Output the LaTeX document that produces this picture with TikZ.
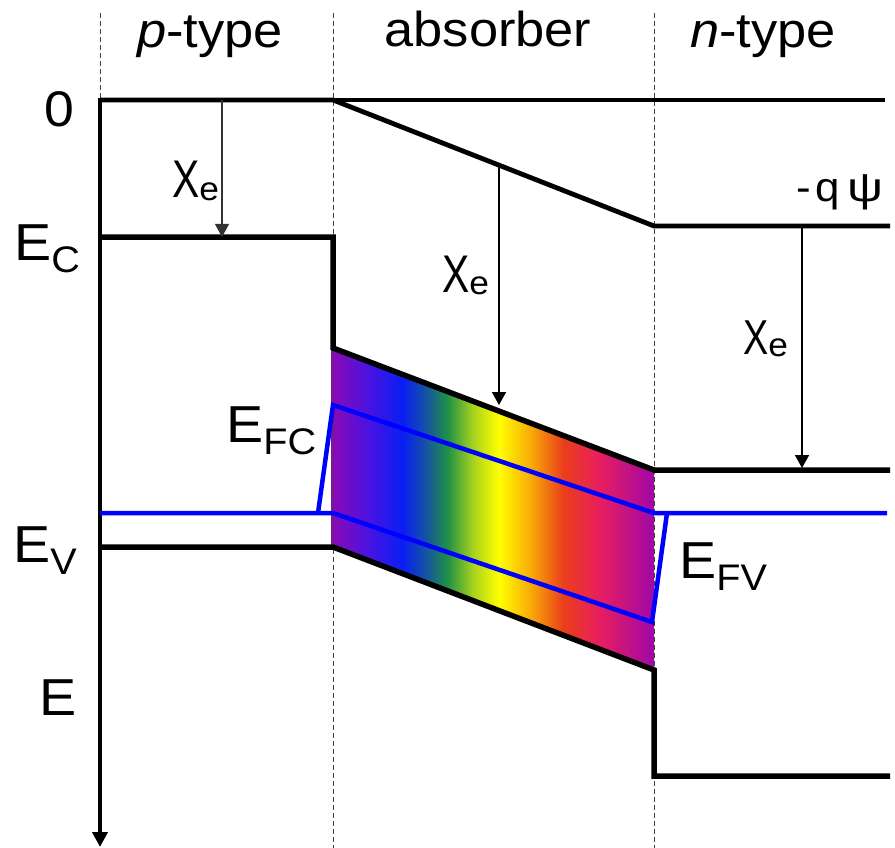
\documentclass[tikz,border=0pt]{standalone}
\usepackage{graphicx}
\usepackage{fontspec}
\setmainfont{Liberation Sans}[FakeStretch=1.07]
\usetikzlibrary{arrows.meta}
\definecolor{rb0}{HTML}{8C0AB4}
\definecolor{rb1}{HTML}{4A12E0}
\definecolor{rb2}{HTML}{0A1EF5}
\definecolor{rb3}{HTML}{1450A8}
\definecolor{rb4}{HTML}{1E9046}
\definecolor{rb5}{HTML}{A8D21E}
\definecolor{rb6}{HTML}{FFFF00}
\definecolor{rb7}{HTML}{F8A808}
\definecolor{rb8}{HTML}{EA3E1A}
\definecolor{rb9}{HTML}{E81E5E}
\definecolor{rb10}{HTML}{A008A8}
\pgfdeclarehorizontalshading{rainbowband}{100bp}{color(0bp)=(rb0); color(25bp)=(rb0); color(30.75bp)=(rb1); color(36bp)=(rb2); color(39.5bp)=(rb3); color(43bp)=(rb4); color(47bp)=(rb5); color(51bp)=(rb6); color(56bp)=(rb7); color(61bp)=(rb8); color(66.5bp)=(rb9); color(75bp)=(rb10); color(100bp)=(rb10)}
\newcommand{\bandsub}[2]{#1\lower12.5pt\hbox{\fontsize{37}{40}\selectfont #2}}
\newcommand{\chie}{\scalebox{0.72}[1]{Χ}\lower2pt\hbox{\fontsize{33}{36}\selectfont e}}
\tikzset{
  region/.style={draw=black!75, line width=1pt, dash pattern=on 5pt off 3pt},
  vacline/.style={line width=4.8pt, line join=miter},
  bandline/.style={line width=5.5pt, line join=miter},
  fermiline/.style={draw={rgb,255:red,0;green,0;blue,255}, line width=4.5pt, line join=miter},
  affarrow/.style={line width=1.7pt, -{Triangle[length=13pt,width=14pt]}},
  header/.style={inner sep=0pt, anchor=base, font=\fontsize{49}{55}\selectfont},
  biglabel/.style={inner sep=0pt, anchor=base west, font=\fontsize{52}{58}\selectfont},
  chilabel/.style={inner sep=0pt, anchor=base west, font=\fontsize{53}{58}\selectfont},
}
\begin{document}
\begin{tikzpicture}[x=1pt,y=-1pt]
\useasboundingbox (0,0) rectangle (895,848);
% band coordinates
\coordinate (vacL) at (100,100);
\coordinate (vacJ) at (333,100);
\coordinate (vacN) at (654,226);
\coordinate (vacR) at (890,226);
\coordinate (topR) at (885,100);
\coordinate (ecL) at (100,237);
\coordinate (ecJ) at (333,237);
\coordinate (ecA) at (333,348);
\coordinate (ecN) at (654,470);
\coordinate (ecR) at (890,470);
\coordinate (evL) at (100,547);
\coordinate (evA) at (333,547);
\coordinate (evN) at (654,670);
\coordinate (evD) at (654,776);
\coordinate (evR) at (890,776);
\coordinate (axisEnd) at (100,847);
% gradient absorber
\shade[shading=rainbowband] (331,348) -- (ecN) -- (evN) -- (331,547) -- cycle;
% region separators
\draw[region] (100,13) -- (vacL);
\draw[region] (333,13) -- (333,848);
\draw[region] (654,13) -- (654,848);
% vacuum levels
\draw[vacline] (vacL) -- (vacJ) -- (vacN) -- (vacR);
\draw[line width=4.2pt] (vacJ) -- (topR);
% energy axis
\draw[line width=3.8pt, -{Triangle[length=15pt,width=15pt]}] (100,98) -- (axisEnd);
% bands
\draw[bandline] (ecL) -- (ecJ) -- (ecA) -- (ecN) -- (ecR);
\draw[bandline] (evL) -- (evA) -- (evN) -- (evD) -- (evR);
% quasi Fermi levels
\coordinate (efL) at (100,513);
\coordinate (efA) at (333,513);
\coordinate (efvN) at (652,622);
\coordinate (efvR) at (667,513);
\coordinate (efcS) at (318,513);
\coordinate (efcA) at (333,405);
\coordinate (efcN) at (654,513);
\coordinate (efR) at (887,513);
\draw[fermiline] (efL) -- (efA) -- (efvN) -- (efvR);
\draw[fermiline] (efcS) -- (efcA) -- (efcN) -- (efR);
% electron affinity arrows
\coordinate (chiPt) at (222,100);
\coordinate (chiPb) at (222,237);
\coordinate (chiAt) at (499,167);
\coordinate (chiAb) at (499,405);
\coordinate (chiNt) at (802,228);
\coordinate (chiNb) at (802,468);
\draw[affarrow, draw=black!80, fill=black!80, line width=1.2pt] (chiPt) -- (chiPb);
\draw[affarrow] (chiAt) -- (chiAb);
\draw[affarrow] (chiNt) -- (chiNb);
% labels
\node[header] (hp) at (210,48) {\textit{p}-type};
\node[header] (ha) at (488,47) {absorber};
\node[header] (hn) at (763,48) {\textit{n}-type};
\node[biglabel, font=\fontsize{50}{55}\selectfont] (zero) at (44,127) {0};
\node[biglabel] (lEC) at (14,260) {\bandsub{E}{C}};
\node[biglabel] (lEV) at (13,562) {\bandsub{E}{V}};
\node[biglabel] (lE) at (39,715) {E};
\node[biglabel] (lEFC) at (226,442) {\bandsub{E}{FC}};
\node[biglabel] (lEFV) at (679,578) {\bandsub{E}{FV}};
\node[chilabel] (chiP) at (172,198) {\chie};
\node[chilabel] (chiA) at (442,292) {\chie};
\node[chilabel, font=\fontsize{49}{54}\selectfont] (chiN) at (743,354) {\chie};
\node[inner sep=0pt, anchor=base west, font=\fontsize{41}{46}\selectfont] (psi) at (796,202) {-\hspace{5pt}q\hspace{7pt}\scalebox{1.15}[1]{ψ}};
\end{tikzpicture}
\end{document}
